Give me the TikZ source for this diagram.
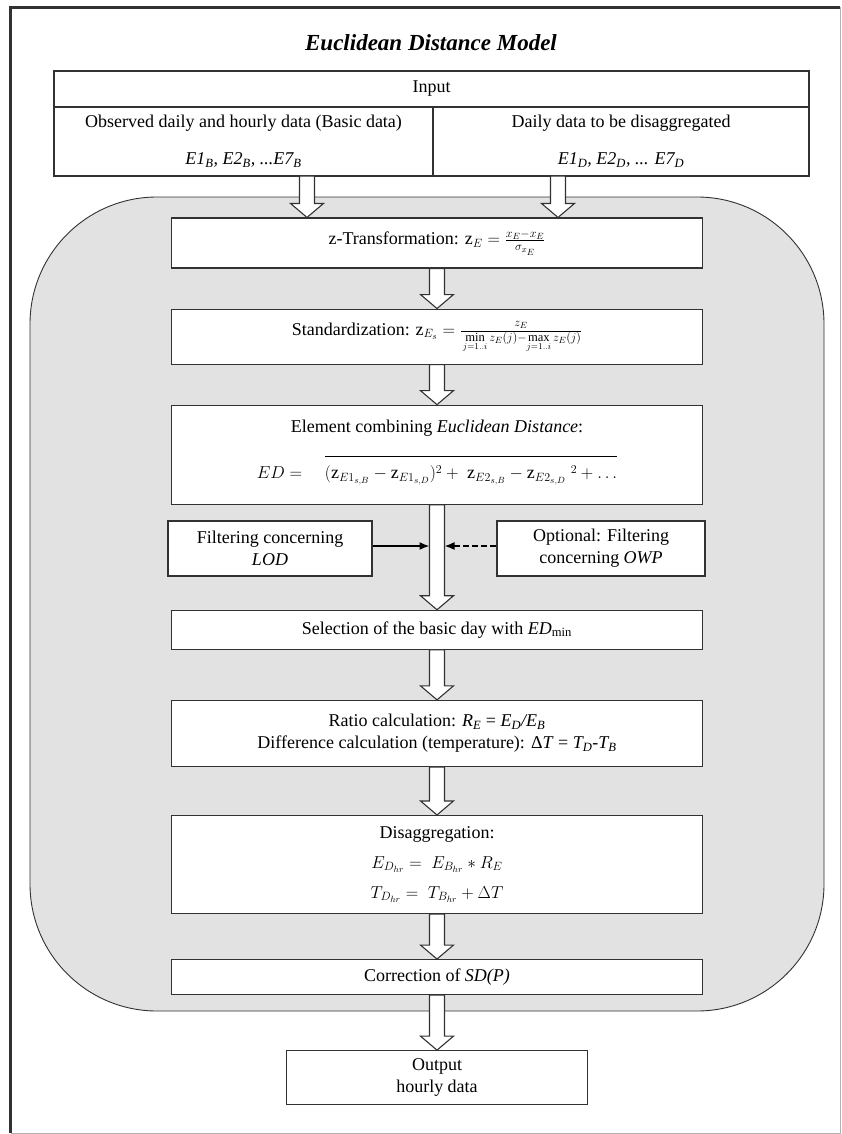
\documentclass[tikz,border=0pt]{standalone}
\usepackage{amsmath}
\usepackage{fontspec}
\setmainfont{Liberation Serif}
\usetikzlibrary{arrows.meta, positioning, calc}
\definecolor{regiongray}{RGB}{226,226,226}
\definecolor{edgegray}{RGB}{50,50,50}

\begin{document}
\begin{tikzpicture}[
  x=1pt, y=-1pt, >=Latex,
  font=\fontsize{18}{22}\selectfont,
  block/.style = {draw=edgegray, line width=1.1pt, fill=white, rectangle,
                  inner sep=2pt, minimum width=531pt, align=center},
  cell/.style  = {draw=edgegray, line width=1.1pt, rectangle, inner sep=0pt, align=center},
  bigarrow/.style = {draw=edgegray, line width=1.1pt, fill=white, to path={
      let \p1=(\tikztostart), \p2=(\tikztotarget) in
      (\x1-7.5pt,\y1) -- (\x1-7.5pt,\y2+14pt) -- (\x1-16.5pt,\y2+14pt) -- (\x1,\y2)
      -- (\x1+16.5pt,\y2+14pt) -- (\x1+7.5pt,\y2+14pt) -- (\x1+7.5pt,\y1) -- cycle}},
  filt/.style = {line width=1.6pt, -{Latex[length=10pt, width=8pt]}},
]
  \useasboundingbox (0,0) rectangle (842,1134);

  % page frame
  \draw[line width=2.7pt, edgegray] (10.5,1133) -- (10.5,7.5) -- (840,7.5);
  \draw[line width=0.8pt, gray!60] (840,7.5) -- (840,1133) -- (10.5,1133);

  \node[font=\fontsize{23}{28}\selectfont\bfseries\itshape] (title) at (431,43) {Euclidean Distance Model};

  % input table
  \node[cell, minimum width=755pt, minimum height=36pt] (input) at (431.5,89) {Input};
  \node[cell, minimum width=379pt, minimum height=69pt] (basic) at (243.5,141.5)
       {Observed daily and hourly data (Basic data)\\[15pt]
        \textit{E1\textsubscript{B}, E2\textsubscript{B}, ...E7\textsubscript{B}}};
  \node[cell, minimum width=376pt, minimum height=69pt] (daily) at (621,141.5)
       {Daily data to be disaggregated\\[15pt]
        \textit{E1\textsubscript{D}, E2\textsubscript{D}, ... E7\textsubscript{D}}};

  % grey model region
  \draw[draw=edgegray, line width=0.9pt, fill=regiongray, rounded corners=127pt]
       (30,197) rectangle (824,1011);

  \node[block, minimum height=50pt] (ztrans) at (437,243)
       {z-Transformation: $\mathrm{z}_E = \frac{x_E - x_E}{\sigma_{x_E}}$};
  \node[block, minimum height=55pt, below=40pt of ztrans] (stdz)
       {Standardization: $\mathrm{z}_{E_s} = \frac{z_E\rule[-4pt]{0pt}{4pt}}{\rule{0pt}{9pt}\min\limits_{j=1..i} z_E(j) - \max\limits_{j=1..i} z_E(j)}$};
  \node[block, minimum height=99pt, below=40pt of stdz] (edist)
       {Element combining \textit{Euclidean Distance}:\\[18pt]
        $ED = \quad \overline{\vphantom{\Big|}(\mathrm{z}_{E1_{s,B}} - \mathrm{z}_{E1_{s,D}})^2 + \;\mathrm{z}_{E2_{s,B}} - \mathrm{z}_{E2_{s,D}}\;{}^2 + \ldots}$};
  \node[block, minimum height=39pt, below=105pt of edist] (select)
       {Selection of the basic day with \textit{ED}\textsubscript{min}};
  \node[block, minimum height=66pt, below=50pt of select] (ratio)
       {Ratio calculation: \textit{R\textsubscript{E}} = \textit{E\textsubscript{D}/E\textsubscript{B}}\\
        Difference calculation (temperature): Δ\textit{T} = \textit{T\textsubscript{D}}-\textit{T\textsubscript{B}}};
  \node[block, minimum height=98pt, below=48pt of ratio] (disagg)
       {Disaggregation:\\[8pt]
        $E_{D_{hr}} = \; E_{B_{hr}} \ast R_E$\\[8pt]
        $T_{D_{hr}} = \; T_{B_{hr}} + \Delta T$};
  \node[block, minimum height=35pt, below=45pt of disagg] (correct)
       {Correction of \textit{SD(P)}};
  \node[block, minimum height=54pt, minimum width=301pt, below=55pt of correct] (output)
       {Output\\hourly data};

  % filters
  \node[block, minimum width=204pt, minimum height=55pt] (lod) at (270,548.5)
       {Filtering concerning\\\textit{LOD}};
  \node[block, minimum width=208pt, minimum height=55pt] (owp) at (601,548.5)
       {Optional: Filtering\\concerning \textit{OWP}};

  \coordinate (inL) at (307,176);
  \coordinate (inR) at (558,176);
  \draw[bigarrow] (inL) to (inL |- ztrans.north);
  \draw[bigarrow] (inR) to (inR |- ztrans.north);
  \draw[bigarrow] (ztrans.south) to (stdz.north);
  \draw[bigarrow] (stdz.south)   to (edist.north);
  \draw[bigarrow] (edist.south)  to (select.north);
  \draw[bigarrow] (select.south) to (ratio.north);
  \draw[bigarrow] (ratio.south)  to (disagg.north);
  \draw[bigarrow] (disagg.south) to (correct.north);
  \draw[bigarrow] (correct.south) to (output.north);

  \coordinate (shaftL) at (429.5,546);
  \coordinate (shaftR) at (444.5,546);
  \draw[filt] (lod.east |- shaftL) -- (shaftL);
  \draw[filt, dash pattern=on 6pt off 3pt] (owp.west |- shaftR) -- (shaftR);
\end{tikzpicture}
\end{document}
